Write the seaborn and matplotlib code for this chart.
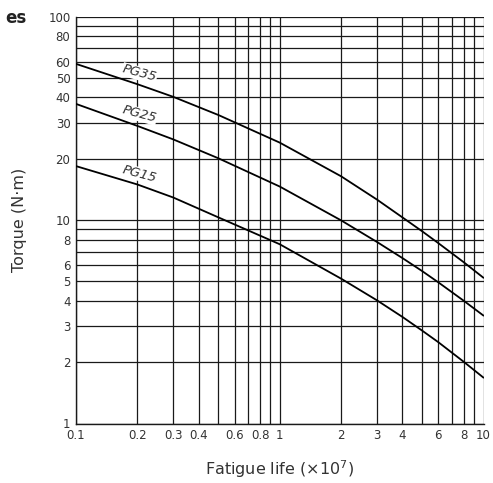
import numpy as np
import pandas as pd
import matplotlib
matplotlib.use("Agg")
import matplotlib.pyplot as plt
import seaborn as sns

# ---- data ----
life = [0.1, 0.2, 0.3, 0.5, 1, 2, 3, 4, 5, 6, 8, 10]
pg35 = [58.5, 46.5, 40.3, 32.8, 24.0, 16.4, 12.6, 10.3, 8.8, 7.7, 6.2, 5.2]
pg25 = [37.2, 29.0, 24.9, 20.1, 14.6, 9.96, 7.80, 6.50, 5.61, 4.94, 4.01, 3.39]
pg15 = [18.4, 14.95, 12.9, 10.3, 7.6, 5.15, 4.03, 3.34, 2.86, 2.51, 2.01, 1.68]
series_names = ["PG35", "PG25", "PG15"]

x_grid = [0.1, 0.2, 0.3, 0.4, 0.5, 0.6, 0.7, 0.8, 0.9, 1, 2, 3, 4, 5, 6, 7, 8, 9, 10]
x_labels = ["0.1", "0.2", "0.3", "0.4", "", "0.6", "", "0.8", "", "1",
            "2", "3", "4", "", "6", "", "8", "", "10"]
y_grid = [1, 2, 3, 4, 5, 6, 7, 8, 9, 10, 20, 30, 40, 50, 60, 70, 80, 90, 100]
y_labels = ["1", "2", "3", "4", "5", "6", "", "8", "", "10",
            "20", "30", "40", "50", "60", "", "80", "", "100"]

df = pd.concat([
    pd.DataFrame({"life": life, "torque": vals, "model": name})
    for name, vals in zip(series_names, [pg35, pg25, pg15])
])

sns.set_style("white")
plt.rcParams["font.family"] = ["DejaVu Sans"]

fig = plt.figure(figsize=(4.93, 4.83), dpi=100)
ax = fig.add_axes([76 / 493, 1 - 423.5 / 483, (483.5 - 76) / 493, (423.5 - 16.5) / 483])
ax.set_axisbelow(True)

sns.lineplot(data=df, x="life", y="torque", hue="model",
             palette=["black"] * 3, legend=False, ax=ax, linewidth=1.3, zorder=3)

ax.set_xscale("log")
ax.set_yscale("log")
ax.set_xlim(0.1, 10)
ax.set_ylim(1, 100)

ax.set_xticks(x_grid)
ax.set_xticklabels(x_labels)
ax.set_yticks(y_grid)
ax.set_yticklabels(y_labels)
ax.minorticks_off()
ax.tick_params(length=0, labelsize=8.5, labelcolor="#333333", pad=4)
ax.grid(True, which="major", color="#1a1a1a", linewidth=0.9)

for side in ["top", "right"]:
    ax.spines[side].set_visible(False)
for side in ["left", "bottom"]:
    ax.spines[side].set_color("#1a1a1a")
    ax.spines[side].set_linewidth(1.0)

ax.set_xlabel("Fatigue life (×10$^{7}$)", fontsize=11.5, color="#333333", labelpad=12)
ax.set_ylabel("Torque (N·m)", fontsize=11.5, color="#333333", labelpad=15)

# curve labels
label_pos = {"PG35": (0.205, 52.5), "PG25": (0.205, 33.0), "PG15": (0.205, 16.8)}
for name in series_names:
    x, y = label_pos[name]
    ax.text(x, y, name, fontsize=9.5, color="#333333", rotation=-15, style="italic",
            ha="center", va="center", zorder=2,
            bbox=dict(facecolor="white", edgecolor="none", pad=0.3))

fig.text(26 / 493, 1 - 18 / 483, "es", fontsize=12, fontweight="bold",
         ha="right", va="center", color="#222222")

fig.savefig("out.png", dpi=100)
